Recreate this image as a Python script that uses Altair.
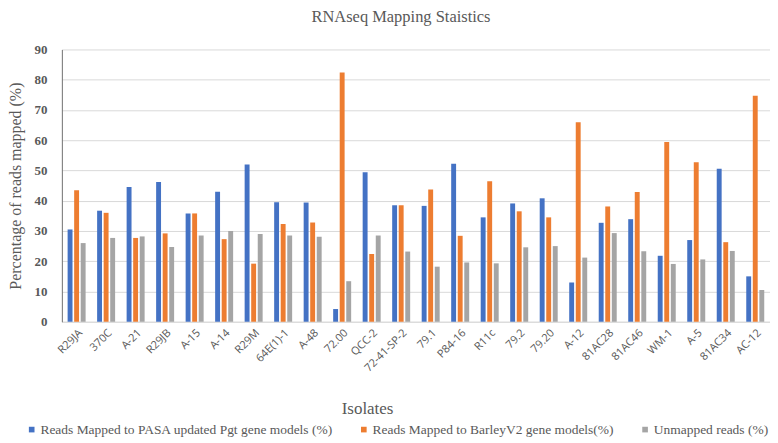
import altair as alt
import pandas as pd

isolates = ["R29JA", "370C", "A-21", "R29JB", "A-15", "A-14", "R29M", "64E(1)-1", "A-48",
            "72.00", "QCC-2", "72-41-SP-2", "79.1", "P84-16", "R11c", "79.2", "79.20", "A-12",
            "81AC28", "81AC46", "WM-1", "A-5", "81AC34", "AC-12"]

pasa = [30.5, 36.7, 44.5, 46.2, 35.8, 43.0, 52.0, 39.5, 39.4, 4.2, 49.4, 38.5, 38.3, 52.2,
        34.5, 39.1, 40.8, 13.0, 32.7, 33.9, 21.8, 27.0, 50.6, 15.0]
barley = [43.5, 36.0, 27.7, 29.2, 35.8, 27.3, 19.2, 32.3, 32.8, 82.4, 22.4, 38.5, 43.7, 28.4,
          46.4, 36.5, 34.5, 65.9, 38.1, 42.9, 59.4, 52.7, 26.3, 74.7]
unmapped = [26.0, 27.7, 28.2, 24.7, 28.5, 30.0, 29.0, 28.5, 28.1, 13.4, 28.5, 23.2, 18.2, 19.6,
            19.3, 24.6, 25.0, 21.2, 29.3, 23.3, 19.1, 20.6, 23.4, 10.5]

series_names = ["Reads Mapped to PASA updated Pgt gene models (%)",
                "Reads Mapped to BarleyV2 gene models(%)",
                "Unmapped reads (%)"]
series_colors = ["#4472C4", "#ED7D31", "#A5A5A5"]
y_ticks = [0, 10, 20, 30, 40, 50, 60, 70, 80, 90]

rows = []
for vals, name in zip([pasa, barley, unmapped], series_names):
    for iso, v in zip(isolates, vals):
        rows.append({"Isolate": iso, "Series": name, "Value": v})
df = pd.DataFrame(rows)

serif = "Liberation Serif"
grey = "#595959"

chart = alt.Chart(df).mark_bar().encode(
    x=alt.X("Isolate:N", sort=isolates,
            scale=alt.Scale(paddingInner=0.39, paddingOuter=0.195),
            axis=alt.Axis(title="Isolates", labelAngle=-45, labelFont="Open Sans",
                          labelFontSize=11, labelColor=grey, ticks=False,
                          domainColor="#d9d9d9", labelPadding=5,
                          titleFont=serif, titleFontSize=17, titleFontWeight="normal",
                          titleColor=grey, titleX=306, titleY=87, titleBaseline="middle",
                          titleAnchor="middle", titleAlign="center")),
    xOffset=alt.XOffset("Series:N", sort=series_names,
                        scale=alt.Scale(domain=series_names, paddingInner=0.25)),
    y=alt.Y("Value:Q", scale=alt.Scale(domain=[0, 90]),
            axis=alt.Axis(title="Percentage of reads mapped (%)", values=y_ticks,
                          labelFont=serif, labelFontSize=13, labelFontWeight="bold",
                          labelColor=grey, ticks=False, domainColor="#6f6f6f",
                          gridColor="#d9d9d9", labelPadding=15,
                          titleFont=serif, titleFontSize=16, titleFontWeight="normal",
                          titleColor=grey, titlePadding=10)),
    color=alt.Color("Series:N", sort=series_names,
                    scale=alt.Scale(domain=series_names, range=series_colors),
                    legend=alt.Legend(title=None, orient="none", legendX=-37, legendY=374,
                                      direction="horizontal", symbolType="square",
                                      symbolSize=32, symbolStrokeWidth=0,
                                      labelFont=serif, labelFontSize=13.5,
                                      labelColor=grey, labelLimit=500,
                                      columnPadding=24, labelOffset=2)),
).properties(
    width=710, height=273,
    title=alt.TitleParams("RNAseq Mapping Staistics", font=serif, fontSize=16.5,
                          fontWeight="normal", color=grey, anchor="middle", dx=-15,
                          offset=18),
    padding={"left": 0, "top": 0, "right": 0, "bottom": 0},
).configure_view(strokeWidth=0)

chart.save("out.html", embed_options={"renderer": "svg", "actions": False})
